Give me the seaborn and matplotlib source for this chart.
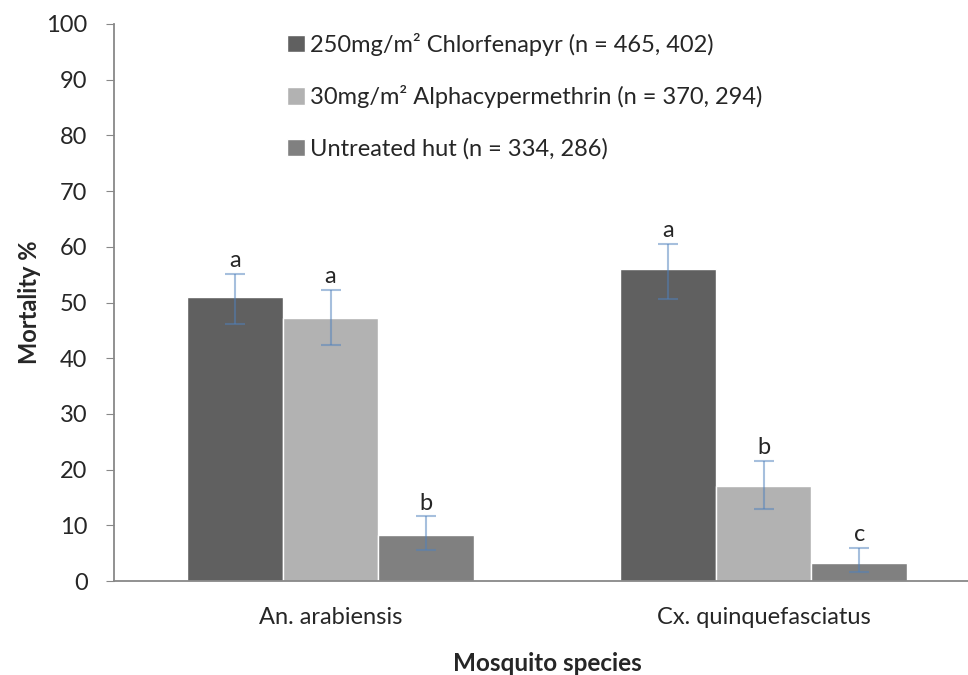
import numpy as np
import pandas as pd
import matplotlib
matplotlib.use("Agg")
import matplotlib.pyplot as plt
import seaborn as sns

species = ["An. arabiensis", "Cx. quinquefasciatus"]
treatments = ["250mg/m² Chlorfenapyr (n = 465, 402)",
              "30mg/m² Alphacypermethrin (n = 370, 294)",
              "Untreated hut (n = 334, 286)"]
# mortality per treatment, one value per species
chlorfenapyr = [51.0, 56.0]
alphacyp = [47.3, 17.1]
untreated = [8.2, 3.2]
# error bar ends
err_low = [[46.2, 50.7], [42.3, 13.0], [5.5, 1.6]]
err_high = [[55.2, 60.5], [52.3, 21.6], [11.6, 5.9]]
letters = [["a", "a"], ["a", "b"], ["b", "c"]]

colors = ["#606060", "#b2b2b2", "#808080"]

df = pd.DataFrame({
    "species": species * 3,
    "treatment": np.repeat(treatments, 2),
    "mortality": chlorfenapyr + alphacyp + untreated,
})

sns.set_style("white")
plt.rcParams["font.family"] = ["Lato", "DejaVu Sans"]

fig = plt.figure(figsize=(9.68, 6.75), dpi=100)
ax = fig.add_axes([114 / 968, 94 / 675, 866 / 968, 557 / 675])

sns.barplot(data=df, x="species", y="mortality", hue="treatment",
            palette=colors, width=0.663, ax=ax, legend=True, errorbar=None,
            saturation=1)

# error bars and letters, placed on the bars seaborn drew
bar_groups = list(ax.containers)
for i, cont in enumerate(bar_groups):
    for j, bar in enumerate(cont):
        xc = bar.get_x() + bar.get_width() / 2
        v = bar.get_height()
        lo, hi = err_low[i][j], err_high[i][j]
        ax.errorbar(xc, v, yerr=[[v - lo], [hi - v]], fmt="none",
                    ecolor="#4f81bd", alpha=0.5, elinewidth=1.5,
                    capsize=7, capthick=1.5)
        ax.text(xc, hi + 1.2, letters[i][j], ha="center", va="baseline",
                fontsize=17)

ax.set_ylim(0, 100)
ax.set_xlim(-0.5, 1.5)
ax.set_yticks(range(0, 101, 10))
ax.set_xticks([-0.5, 0.5, 1.5], minor=True)
ax.tick_params(axis="x", which="minor", length=6, color="#888888", direction="out")
ax.tick_params(axis="x", which="major", length=0, labelsize=17, pad=19)
ax.tick_params(axis="y", length=6, color="#888888", direction="out",
               labelsize=17, left=True, pad=13)

for s in ["top", "right"]:
    ax.spines[s].set_visible(False)
for s in ["left", "bottom"]:
    ax.spines[s].set_color("#888888")
    ax.spines[s].set_linewidth(1.3)

ax.set_ylabel("Mortality %", fontsize=17, fontweight="bold", labelpad=4)
ax.set_xlabel("Mosquito species", fontsize=17.5, fontweight="bold", labelpad=17)

ax.legend(loc="upper left", bbox_to_anchor=(0.2, 0.984), frameon=False,
          fontsize=17, handlelength=0.76, handleheight=0.76, handletextpad=0.2,
          labelspacing=1.25, borderaxespad=0, borderpad=0)

fig.savefig("out.png", dpi=100)
